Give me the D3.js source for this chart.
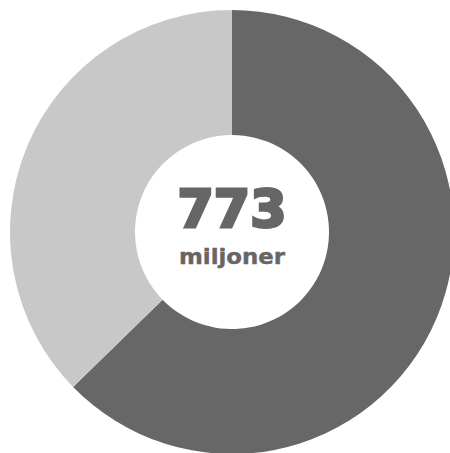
<!DOCTYPE html>
<html><head><meta charset="utf-8">
<script src="https://cdn.jsdelivr.net/npm/d3@7"></script>
<style>html,body{margin:0;padding:0;background:#fff;overflow:hidden}</style>
</head><body>
<script>
const categories = ["Del A", "Del B"];
const values = [62.7, 37.3];
const colors = ["#676767", "#c8c8c8"];
const totalLabel = "773";
const unitLabel = "miljoner";

const W = 450, H = 453;
const cx = 232, cy = 232, rOuter = 222, rInner = 97;

const svg = d3.select("body").append("svg").attr("width", W).attr("height", H);
const g = svg.append("g").attr("transform", `translate(${cx},${cy})`);

const pie = d3.pie().sort(null).value(d => d.v);
const arc = d3.arc().innerRadius(rInner).outerRadius(rOuter);
const data = categories.map((c, i) => ({c, v: values[i], col: colors[i]}));

g.selectAll("path").data(pie(data)).join("path")
  .attr("d", arc).attr("fill", d => d.data.col);

g.append("text").attr("x", 0).attr("y", -5)
  .attr("text-anchor", "middle")
  .attr("font-family", "DejaVu Sans").attr("font-weight", "bold")
  .attr("font-size", 52).attr("fill", "#666")
  .attr("stroke", "#666").attr("stroke-width", 3).attr("stroke-linejoin", "miter")
  .attr("textLength", 109).attr("lengthAdjust", "spacingAndGlyphs")
  .text(totalLabel);

g.append("text").attr("x", 0).attr("y", 32)
  .attr("text-anchor", "middle")
  .attr("font-family", "DejaVu Sans").attr("font-weight", "bold")
  .attr("font-size", 21.5).attr("fill", "#666")
  .attr("stroke", "#666").attr("stroke-width", 0.4)
  .attr("textLength", 106).attr("lengthAdjust", "spacingAndGlyphs")
  .text(unitLabel);
</script>
</body></html>
